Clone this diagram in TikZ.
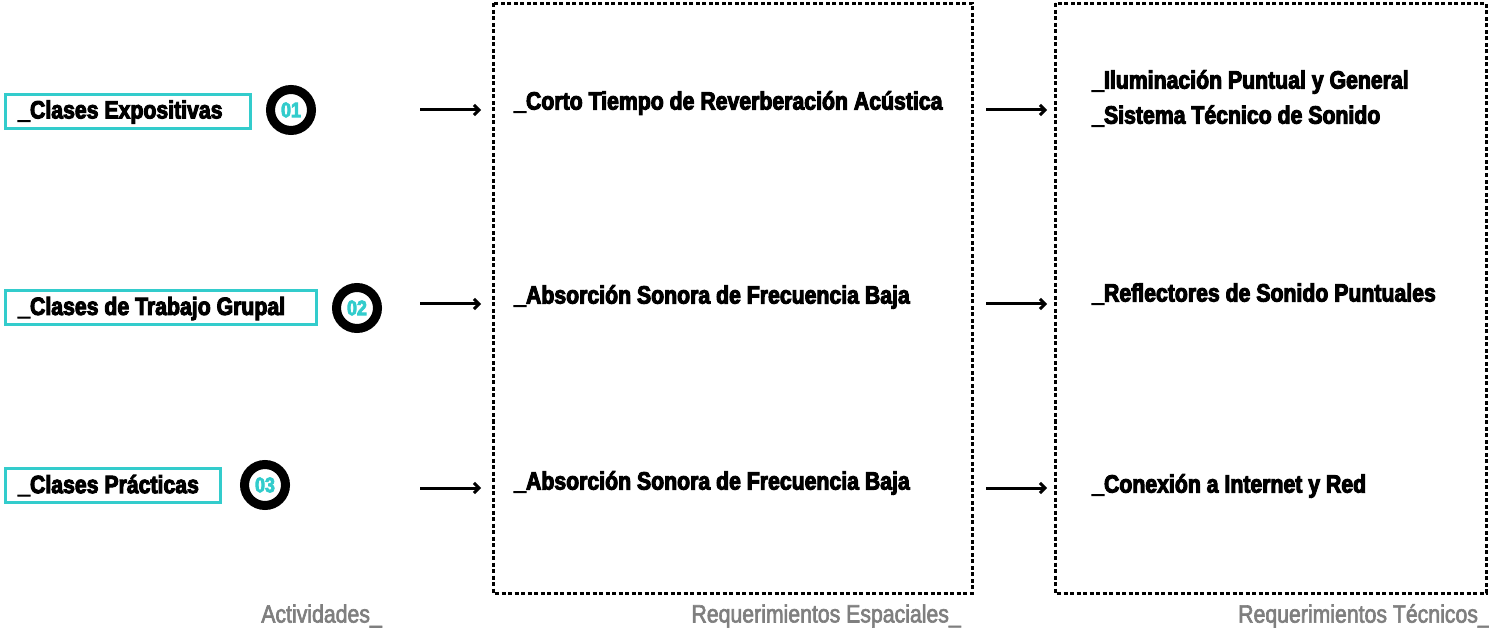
\documentclass[tikz,border=0pt]{standalone}
\usepackage{fontspec}
\setmainfont{Liberation Sans}
\newfontfamily\heavy[FakeStretch=0.85,FakeBold=4]{Liberation Sans Bold}
\newfontfamily\medium[FakeStretch=0.85,FakeBold=2.5]{Liberation Sans}
\usetikzlibrary{arrows.meta}
\definecolor{tealc}{HTML}{33CCCC}
\definecolor{grayc}{HTML}{7F7F7F}
\begin{document}
\begin{tikzpicture}[x=1pt,y=-1pt,
  actbox/.style={draw=tealc,line width=3pt,minimum height=34pt,anchor=west,inner sep=0pt},
  acttext/.style={anchor=west,inner sep=0pt,font=\heavy\fontsize{25}{28}\selectfont},
  numc/.style={circle,draw=black,line width=9pt,minimum size=41pt,inner sep=0pt,text=tealc,font=\heavy\fontsize{21}{24}\selectfont},
  reqbox/.style={draw=black,line width=3pt,dash pattern=on 4pt off 2.5pt},
  reqtext/.style={anchor=west,font=\heavy\fontsize{25}{28}\selectfont,inner sep=0pt},
  lbl/.style={text=grayc,font=\medium\fontsize{25}{28}\selectfont,inner sep=0pt},
  arr/.style={-{Straight Barb[length=5pt,width=10pt]},line width=3pt}]
\useasboundingbox (0,0) rectangle (1489,628);
% activity boxes
\node[actbox,minimum width=245pt] (a1) at (3.5,111.5) {};
\node[acttext] (t1) at (18,112) {\_Clases Expositivas};
\node[actbox,minimum width=311pt] (a2) at (3.5,308) {};
\node[acttext] (t2) at (18,308.5) {\_Clases de Trabajo Grupal};
\node[actbox,minimum width=215pt] (a3) at (3.5,485) {};
\node[acttext] (t3) at (18,485.5) {\_Clases Prácticas};
% number circles
\node[numc] (c1) at (291,110) {01};
\node[numc] (c2) at (357,308) {02};
\node[numc] (c3) at (265,485) {03};
% dashed boxes
\draw[reqbox] (493,3.5) rectangle (972,593);
\draw[reqbox] (1055,3.5) rectangle (1486,593);
% arrow coordinates
\coordinate (p1s) at (420,110); \coordinate (p1e) at (481,110);
\coordinate (p2s) at (420,304); \coordinate (p2e) at (481,304);
\coordinate (p3s) at (420,488); \coordinate (p3e) at (481,488);
\coordinate (q1s) at (986,110); \coordinate (q1e) at (1047,110);
\coordinate (q2s) at (986,304); \coordinate (q2e) at (1047,304);
\coordinate (q3s) at (986,488); \coordinate (q3e) at (1047,488);
\foreach \s/\e in {p1s/p1e,p2s/p2e,p3s/p3e,q1s/q1e,q2s/q2e,q3s/q3e}
  \draw[arr] (\s) -- (\e);
% requirement texts
\node[reqtext] (r1) at (514,103) {\_Corto Tiempo de Reverberación Acústica};
\node[reqtext] (r2) at (514,297) {\_Absorción Sonora de Frecuencia Baja};
\node[reqtext] (r3) at (514,483) {\_Absorción Sonora de Frecuencia Baja};
\node[reqtext] (s1) at (1092,82) {\_Iluminación Puntual y General};
\node[reqtext] (s1b) at (1092,116) {\_Sistema Técnico de Sonido};
\node[reqtext] (s2) at (1092,294) {\_Reflectores de Sonido Puntuales};
\node[reqtext] (s3) at (1092,486) {\_Conexión a Internet y Red};
% bottom labels
\node[lbl,anchor=east] (l1) at (382,616) {Actividades\_};
\node[lbl,anchor=east] (l2) at (961,616) {Requerimientos Espaciales\_};
\node[lbl,anchor=east] (l3) at (1490,616) {Requerimientos Técnicos\_};
\end{tikzpicture}
\end{document}
